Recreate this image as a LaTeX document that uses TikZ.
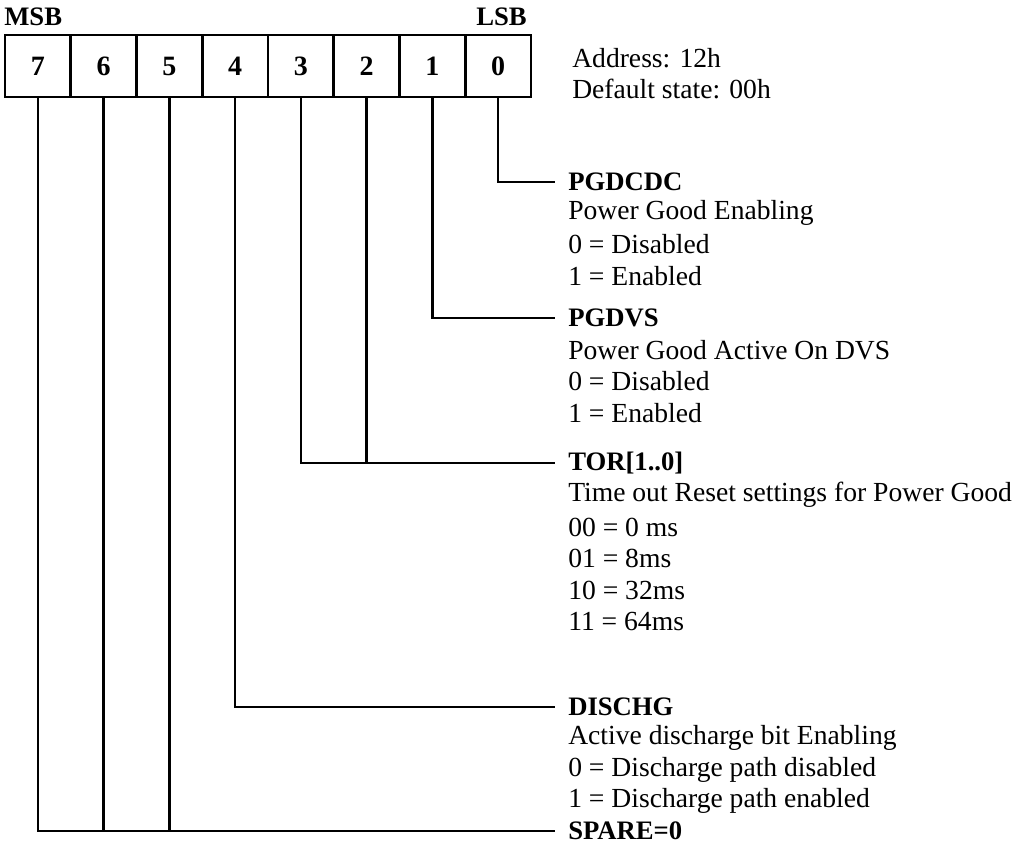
\documentclass[tikz,border=0pt]{standalone}
\usepackage{fontspec}
\setmainfont{Liberation Serif}
\begin{document}
\begin{tikzpicture}[x=0.75pt,y=-0.75pt,
  cell/.style={draw,line width=1.9pt,minimum width=49.3pt,minimum height=46.5pt,inner sep=0pt,font=\fontsize{21}{24}\selectfont\bfseries},
  wire/.style={line width=1.9pt},
  txt/.style={anchor=west,inner sep=0pt,font=\fontsize{20.7}{24}\selectfont},
  head/.style={txt,font=\fontsize{20}{24}\selectfont\bfseries}]
\useasboundingbox (0,0) rectangle (1019,846);
\foreach \i in {0,...,7}{
  \node[cell] (b\i) at ({5+65.75*(7-\i)+32.875},66) {\i};
}
\node[head,anchor=west] (msb) at (4,17) {MSB};
\node[head,anchor=east] (lsb) at (527,17) {LSB};
\node[txt] (addr) at (572,58) {Address: 12h};
\node[txt] (def) at (572,89) {Default state: 00h};
% PGDCDC
\node[head] (h0) at (568,182) {PGDCDC};
\node[txt] at (568,213) {Power Good Enabling};
\node[txt] at (568,244) {0 = Disabled};
\node[txt] at (568,276) {1 = Enabled};
% PGDVS
\node[head] (h1) at (568,318) {PGDVS};
\node[txt] at (568,350) {Power Good Active On DVS};
\node[txt] at (568,381) {0 = Disabled};
\node[txt] at (568,413) {1 = Enabled};
% TOR
\node[head] (h2) at (568,463) {TOR[1..0]};
\node[txt] at (568,495) {Time out Reset settings for Power Good};
\node[txt] at (568,527) {00 = 0 ms};
\node[txt] at (568,558) {01 = 8ms};
\node[txt] at (568,590) {10 = 32ms};
\node[txt] at (568,621) {11 = 64ms};
% DISCHG
\node[head] (h4) at (568,707) {DISCHG};
\node[txt] at (568,738) {Active discharge bit Enabling};
\node[txt] at (568,770) {0 = Discharge path disabled};
\node[txt] at (568,801) {1 = Discharge path enabled};
% SPARE
\node[head] (h5) at (568,831) {SPARE=0};
\coordinate (e0) at (555,182);
\coordinate (e1) at (555,318);
\coordinate (e2) at (555,463);
\coordinate (e4) at (555,707);
\coordinate (e5) at (555,831);
\draw[wire] (b0.south) |- (e0);
\draw[wire] (b1.south) |- (e1);
\draw[wire] (b3.south) |- (e2);
\draw[wire] (b2.south) -- (b2.south |- e2);
\draw[wire] (b4.south) |- (e4);
\draw[wire] (b7.south) |- (e5);
\draw[wire] (b6.south) -- (b6.south |- e5);
\draw[wire] (b5.south) -- (b5.south |- e5);
\end{tikzpicture}
\end{document}
